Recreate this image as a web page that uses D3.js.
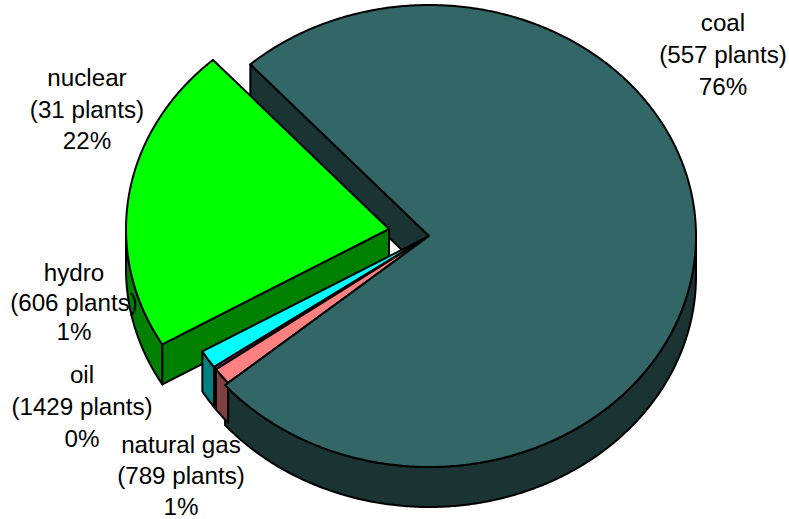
<!DOCTYPE html>
<html>
<head>
<meta charset="utf-8">
<script src="https://cdn.jsdelivr.net/npm/d3@7"></script>
<style>
  html, body { margin: 0; padding: 0; background: #fff; }
  text { font-family: "Liberation Sans", Arial, sans-serif; font-size: 24.2px; fill: #000; text-anchor: middle; }
</style>
</head>
<body>
<svg id="chart" width="789" height="519"></svg>
<script>
// Electricity generation share by fuel, with plant counts (clockwise from coal)
const categories = ["coal", "natural gas", "oil", "hydro", "nuclear"];
const plants = [557, 789, 1429, 606, 31];
const shares = [75.5, 1.2, 0.2, 1.3, 21.8];
const topColors = ["#336666", "#ff8080", "#a0209a", "#00ffff", "#00ff00"];
const wallColors = ["#1a3333", "#804040", "#400040", "#008080", "#008000"];

// Layout of the tilted pie
const center = { x: 429, y: 236 };
const radiusX = 267, radiusY = 231, depth = 40;
const offsets = [[0, 0], [0, 0], [0, 0], [0, 0], [-40, -7]];
const radiusScales = [1, 0.985, 0.985, 0.985, 0.985];
const labelAnchors = [[723, 31], [181, 453], [82, 383], [74, 281], [87, 86]];
const labelLineGaps = [32, 31, 32, 29.5, 31.5];
const COAL = 0, NUCLEAR = 4, SLIVERS = [3, 2, 1];

const svg = d3.select("#chart");
const deg = Math.PI / 180;
const pie = d3.pie().sort(null).value(d => d)
  .startAngle(318 * deg).endAngle((318 + 360) * deg);
const arcs = pie(shares);

const lineGen = d3.line().x(d => d[0]).y(d => d[1]);
const apex = i => [center.x + offsets[i][0], center.y + offsets[i][1]];
const rim = (i, a) => {
  const [cx, cy] = apex(i), k = radiusScales[i];
  return [cx + radiusX * k * Math.sin(a), cy - radiusY * k * Math.cos(a)];
};
const rimPoints = (i, a0, a1) => {
  const n = Math.max(2, Math.ceil(Math.abs(a1 - a0) / (0.5 * deg)));
  return d3.range(n + 1).map(j => rim(i, a0 + (a1 - a0) * j / n));
};
const drop = p => [p[0], p[1] + depth];
const face = (pts, fill) => svg.append("path")
  .attr("d", lineGen(pts) + "Z")
  .attr("fill", fill).attr("stroke", "#000")
  .attr("stroke-width", 2).attr("stroke-linejoin", "round");

// Visible outer wall: the part of a slice's rim on the front half of the ellipse
function outerWall(i) {
  const s = arcs[i].startAngle, e = arcs[i].endAngle;
  const a0 = Math.max(s - 2 * Math.PI, 90 * deg), a1 = Math.min(e - 2 * Math.PI, 270 * deg);
  if (a1 > a0) {
    const top = rimPoints(i, a0, a1);
    face(top.concat(top.map(drop).reverse()), wallColors[i]);
  }
}
const cutWall = (i, angle) => {
  const a = apex(i), r = rim(i, angle);
  face([a, r, drop(r), drop(a)], wallColors[i]);
};
const topFace = i => face([apex(i)].concat(rimPoints(i, arcs[i].startAngle, arcs[i].endAngle)), topColors[i]);

// Back-to-front: coal walls, nuclear (pulled out of the pie), small slices, coal top
cutWall(COAL, arcs[COAL].startAngle);
outerWall(COAL);

outerWall(NUCLEAR);
cutWall(NUCLEAR, arcs[NUCLEAR].startAngle);
topFace(NUCLEAR);

SLIVERS.forEach(outerWall);
SLIVERS.forEach(topFace);

topFace(COAL);

// Three-line labels: name, plant count, rounded share
const labels = svg.append("g");
categories.forEach((name, i) => {
  const [x, y] = labelAnchors[i];
  [name, `(${plants[i]} plants)`, `${Math.round(shares[i])}%`].forEach((line, j) => {
    labels.append("text").attr("x", x).attr("y", y + j * labelLineGaps[i]).text(line);
  });
});
</script>
</body>
</html>
